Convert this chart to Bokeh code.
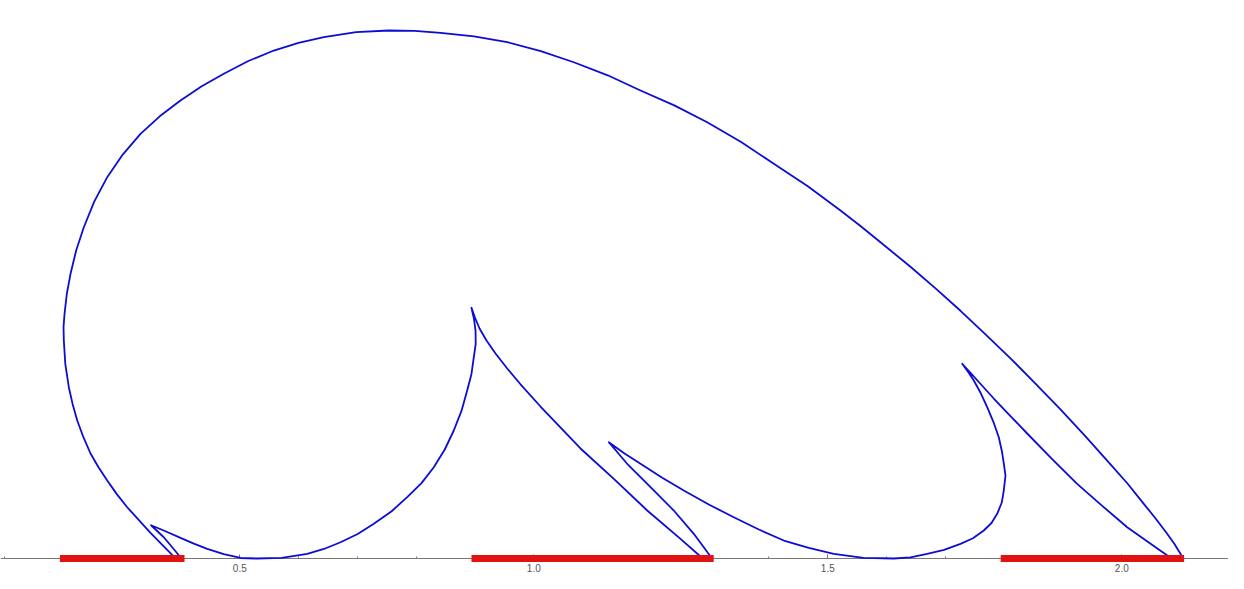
from bokeh.plotting import figure
from bokeh.models import FixedTicker, Range1d
from bokeh.embed import file_html
from bokeh.resources import INLINE

# Closed parametric curve (x, y in data units)
curve_x = [0.3878, 0.3473, 0.3085, 0.2908, 0.2745, 0.2597, 0.2461, 0.2340, 0.2235, 0.2156,
           0.2092, 0.2032, 0.2007, 0.2002, 0.2019, 0.2058, 0.2121, 0.2218, 0.2347, 0.2524,
           0.2745, 0.3009, 0.3311, 0.3638, 0.3991, 0.4352, 0.4728, 0.5145, 0.5578, 0.5998,
           0.6429, 0.6978, 0.7534, 0.7971, 0.8413, 0.8983, 0.9548, 1.0119, 1.0680, 1.1257,
           1.1815, 1.2389, 1.2949, 1.3526, 1.4082, 1.4660, 1.5216, 1.5556, 1.5896, 1.6406,
           1.6832, 1.7257, 1.7682, 1.8107, 1.8532, 1.8957, 1.9383, 1.9808, 2.0097, 2.0374,
           2.0582, 2.0772, 2.0896, 2.0998, 2.1027, 2.0799, 2.0454, 2.0092, 1.9667, 1.9241,
           1.8816, 1.8391, 1.8107, 1.7823, 1.7622, 1.7427, 1.7286, 1.7376, 1.7483, 1.7605,
           1.7711, 1.7818, 1.7908, 1.7964, 1.7993, 1.8022, 1.7993, 1.7959, 1.7881, 1.7784,
           1.7653, 1.7469, 1.7257, 1.6978, 1.6690, 1.6406, 1.6122, 1.5607, 1.5102, 1.4677,
           1.4252, 1.3827, 1.3401, 1.2976, 1.2551, 1.2184, 1.1815, 1.1543, 1.1276, 1.1432,
           1.1588, 1.1985, 1.2381, 1.2721, 1.2891, 1.3005, 1.2835, 1.2495, 1.1929, 1.1361,
           1.0794, 1.0114, 0.9774, 0.9548, 0.9349, 0.9196, 0.9077, 0.8999, 0.8940, 0.8983,
           0.9009, 0.9012, 0.8980, 0.8940, 0.8867, 0.8770, 0.8639, 0.8486, 0.8299, 0.8090,
           0.7847, 0.7577, 0.7279, 0.7005, 0.6713, 0.6432, 0.6146, 0.5714, 0.5284, 0.5012,
           0.4728, 0.4446, 0.4218, 0.3991, 0.3707, 0.3490, 0.3707, 0.3850, 0.3980, 0.3878]
curve_y = [0.0034, 0.0446, 0.0872, 0.1095, 0.1327, 0.1551, 0.1786, 0.2063, 0.2347, 0.2629,
           0.2913, 0.3310, 0.3707, 0.3934, 0.4162, 0.4503, 0.4842, 0.5243, 0.5634, 0.6070,
           0.6485, 0.6869, 0.7223, 0.7520, 0.7789, 0.8032, 0.8243, 0.8461, 0.8639, 0.8770,
           0.8866, 0.8951, 0.8980, 0.8974, 0.8940, 0.8879, 0.8781, 0.8629, 0.8440, 0.8218,
           0.7959, 0.7706, 0.7420, 0.7082, 0.6713, 0.6330, 0.5918, 0.5656, 0.5379, 0.4961,
           0.4595, 0.4213, 0.3813, 0.3405, 0.2976, 0.2537, 0.2078, 0.1602, 0.1276, 0.0930,
           0.0672, 0.0420, 0.0247, 0.0080, 0.0022, 0.0034, 0.0276, 0.0532, 0.0896, 0.1270,
           0.1692, 0.2126, 0.2423, 0.2721, 0.2942, 0.3158, 0.3311, 0.3189, 0.3027, 0.2806,
           0.2573, 0.2321, 0.2063, 0.1811, 0.1616, 0.1412, 0.1156, 0.0952, 0.0760, 0.0604,
           0.0476, 0.0344, 0.0250, 0.0148, 0.0080, 0.0020, 0.0000, 0.0012, 0.0080, 0.0179,
           0.0306, 0.0493, 0.0702, 0.0918, 0.1156, 0.1374, 0.1611, 0.1787, 0.1978, 0.1794,
           0.1611, 0.1213, 0.0816, 0.0420, 0.0192, 0.0034, 0.0034, 0.0335, 0.0816, 0.1355,
           0.1871, 0.2585, 0.2963, 0.3231, 0.3486, 0.3707, 0.3912, 0.4099, 0.4264, 0.4073,
           0.3878, 0.3651, 0.3423, 0.3138, 0.2857, 0.2510, 0.2177, 0.1854, 0.1553, 0.1282,
           0.1043, 0.0799, 0.0590, 0.0417, 0.0277, 0.0162, 0.0080, 0.0012, 0.0000, 0.0009,
           0.0075, 0.0165, 0.0252, 0.0352, 0.0476, 0.0566, 0.0362, 0.0192, 0.0034, 0.0034]

# Red intervals on the x axis
interval_start = [0.2, 0.9, 1.8]
interval_end = [0.4, 1.3, 2.1]
interval_y = [0.0, 0.0, 0.0]

major_ticks = [0.5, 1.0, 1.5, 2.0]
tick_labels = ["0.5", "1.0", "1.5", "2.0"]
minor_ticks = [0.1, 0.2, 0.3, 0.4, 0.6, 0.7, 0.8, 0.9, 1.1, 1.2, 1.3, 1.4,
               1.6, 1.7, 1.8, 1.9, 2.1, 2.2]

p = figure(width=1228, height=573, output_backend="svg", toolbar_location=None,
           x_range=Range1d(0.0930, 2.1815), y_range=Range1d(-0.0255, 0.9490),
           min_border=0, outline_line_color=None)
p.grid.visible = False
p.yaxis.visible = False
p.background_fill_color = "white"

p.line(curve_x, curve_y, line_color="#0c0cd4", line_width=1.8, line_join="round",
       level="annotation")
p.segment(x0=interval_start, y0=interval_y, x1=interval_end, y1=interval_y,
          line_color="#e31212", line_width=7, line_cap="square", level="overlay")

ax = p.xaxis[0]
ax.fixed_location = 0
ax.ticker = FixedTicker(ticks=major_ticks, minor_ticks=minor_ticks)
ax.major_label_overrides = {t: l for t, l in zip(major_ticks, tick_labels)}
ax.axis_line_color = "#777777"
ax.axis_line_width = 1
ax.major_tick_line_color = "#777777"
ax.minor_tick_line_color = "#777777"
ax.major_tick_in = 4
ax.major_tick_out = 0
ax.minor_tick_in = 2
ax.minor_tick_out = 0
ax.major_label_standoff = 5
ax.major_label_text_font = "Liberation Sans"
ax.major_label_text_font_size = "10px"
ax.major_label_text_color = "#555555"

open("out.html", "w").write(file_html(p, INLINE))
